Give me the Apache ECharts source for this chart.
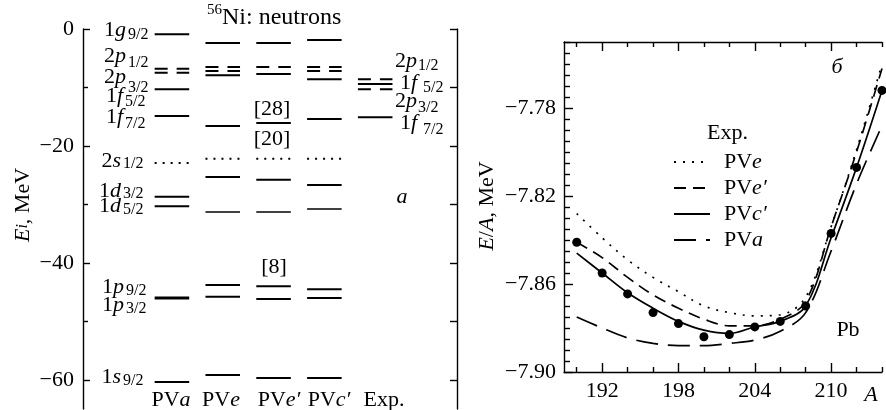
<!DOCTYPE html>
<html>
<head>
<meta charset="utf-8">
<script src="https://cdn.jsdelivr.net/npm/echarts@6/dist/echarts.min.js"></script>
<style>
  html, body { margin: 0; padding: 0; background: #fff; }
  #main { width: 886px; height: 410px; }
</style>
</head>
<body>
<div id="main"></div>
<script>
// ---- panel a: 56Ni neutron levels, [column, E (MeV)] ----
const columns = ['PVa', 'PVe', 'PVe′', 'PVc′', 'Exp.']
const solidLevels = [
  [0, -0.9], [0, -10.3], [0, -14.9], [0, -28.7], [0, -30.3], [0, -60.4],
  [1, -2.4], [1, -7.9], [1, -16.6], [1, -25.3], [1, -43.8], [1, -45.8], [1, -59.2],
  [2, -2.4], [2, -7.7], [2, -16.1], [2, -25.8], [2, -44.0], [2, -46.2], [2, -59.7],
  [3, -1.9], [3, -8.6], [3, -15.4], [3, -26.7], [3, -44.5], [3, -46.0], [3, -59.7],
  [4, -9.4], [4, -15.1]
]
const thickLevels = [[0, -46.0]]
const thinLevels = [[1, -31.3], [2, -31.3], [3, -30.8]]
const dashedLevels = [
  [0, -6.8], [0, -7.5], [1, -6.5], [1, -7.2], [2, -6.5],
  [3, -6.5], [3, -7.2], [4, -8.6], [4, -10.3]
]
const dottedLevels = [[0, -22.9], [1, -22.2], [2, -22.2], [3, -22.2]]
const levelTicksMajor = [-60, -40, -20, 0]
const levelTicksMinor = [-50, -30, -10]
const levelTicksRight = [-60, -50, -40, -30, -20, -10, 0]

// ---- panel б: Pb binding energy per nucleon ----
const massNumbers = [190, 192, 194, 196, 198, 200, 202, 204, 206, 208, 210, 212, 214]
const expEnergy  = [-7.841, -7.855, -7.8645, -7.873, -7.878, -7.884, -7.883, -7.8795, -7.877, -7.870, -7.837, -7.807, -7.772]
const pveEnergy  = [-7.828, -7.839, -7.849, -7.857, -7.8635, -7.870, -7.873, -7.8745, -7.874, -7.866, -7.834, -7.799, -7.760]
const pve2Energy = [-7.841, -7.848, -7.857, -7.865, -7.871, -7.876, -7.879, -7.879, -7.876, -7.868, -7.834, -7.800, -7.762]
const pvc2Energy = [-7.846, -7.855, -7.864, -7.871, -7.877, -7.881, -7.8825, -7.8795, -7.877, -7.870, -7.839, -7.807, -7.772]
const pvaEnergy  = [-7.875, -7.880, -7.8845, -7.887, -7.888, -7.888, -7.887, -7.8855, -7.8815, -7.873, -7.845, -7.8145, -7.788]
const aTicksMajor = [192, 198, 204, 210]
const aTicksMinor = [190, 194, 196, 200, 202, 206, 208, 212, 214]
const eTicksMajor = [-7.90, -7.86, -7.82, -7.78]
const eTicksMinor = [
  -7.895, -7.89, -7.885, -7.88, -7.875, -7.87, -7.865, -7.855, -7.85, -7.845, -7.84,
  -7.835, -7.83, -7.825, -7.815, -7.81, -7.805, -7.80, -7.795, -7.79, -7.785,
  -7.775, -7.77, -7.765, -7.76, -7.755, -7.75
]

const serif = '"Liberation Serif", "Times New Roman", serif'
const chart = echarts.init(document.getElementById('main'))
const halfWidth = 0.34

function levelSeries (data, width, dash) {
  return {
    type: 'custom', xAxisIndex: 0, yAxisIndex: 0, silent: true, data: data,
    renderItem: function (params, api) {
      const c = api.value(0), e = api.value(1)
      const a = api.coord([c - halfWidth, e])
      const b = api.coord([c + halfWidth, e])
      return {
        type: 'line',
        shape: { x1: a[0], y1: a[1], x2: b[0], y2: b[1] },
        style: { stroke: '#000', lineWidth: width, lineDash: dash }
      }
    }
  }
}

function pairs (ys) {
  return massNumbers.map((a, i) => [a, ys[i]])
}

function curve (name, ys, dash) {
  return {
    name: name, type: 'line', xAxisIndex: 1, yAxisIndex: 3,
    data: pairs(ys), smooth: 0.35, symbol: 'none', silent: true,
    itemStyle: { color: '#000' },
    lineStyle: { color: '#000', width: 1.7, type: dash }
  }
}

const richText = {
  r: { fontFamily: serif, fontSize: 22, fill: '#000' },
  i: { fontFamily: serif, fontSize: 22, fontStyle: 'italic', fill: '#000' },
  s: { fontFamily: serif, fontSize: 16, fontStyle: 'italic', fill: '#000' }
}

function txt (x, y, text, align, size, extra) {
  return Object.assign({
    type: 'text', x: x, y: y, silent: true,
    style: {
      text: text, fill: '#000', align: align || 'center', verticalAlign: 'middle',
      font: (size || 22) + 'px ' + serif, rich: richText
    }
  }, extra || {})
}

// level label: main part right edge, subscript after it
function leftLabel (digit, letter, sub, y, ySub, mainRight) {
  return [
    txt(mainRight, y, '{r|' + digit + '}{i|' + letter + '}', 'right'),
    txt(mainRight + 2, ySub, sub, 'left', 16)
  ]
}
function rightLabel (digit, letter, sub, x, y, ySub) {
  return [
    txt(x, y, '{r|' + digit + '}{i|' + letter + '}', 'left'),
    txt(x + 23, ySub, sub, 'left', 16)
  ]
}

const graphics = [].concat(
  txt(222, 10, '56', 'right', 15),
  txt(222, 18, 'Ni: neutrons', 'left', 24),
  leftLabel('1', 'g', '9/2', 30, 35, 126),
  leftLabel('2', 'p', '1/2', 56, 63, 126),
  leftLabel('2', 'p', '3/2', 77, 88, 126),
  leftLabel('1', 'f', '5/2', 96, 102, 123),
  leftLabel('1', 'f', '7/2', 117, 124, 123),
  leftLabel('2', 's', '1/2', 161, 164, 121),
  leftLabel('1', 'd', '3/2', 191, 194, 121),
  leftLabel('1', 'd', '5/2', 206, 210, 121),
  leftLabel('1', 'p', '9/2', 287, 291, 124),
  leftLabel('1', 'p', '3/2', 305, 309, 124),
  leftLabel('1', 's', '9/2', 377, 381, 121),
  rightLabel('2', 'p', '1/2', 395, 61, 66),
  rightLabel('1', 'f', '5/2', 400, 83, 88),
  rightLabel('2', 'p', '3/2', 395, 101, 108),
  rightLabel('1', 'f', '7/2', 400, 123, 130),
  txt(272, 109, '[28]'),
  txt(272, 139, '[20]'),
  txt(274, 267, '[8]'),
  txt(402, 197, '{i|a}'),
  txt(171, 400, '{r|PV}{i|a}'),
  txt(221, 400, '{r|PV}{i|e}'),
  txt(279, 400, '{r|PV}{i|e′}'),
  txt(329, 400, '{r|PV}{i|c′}'),
  txt(384, 400, 'Exp.'),
  txt(23, 205, '{i|E}{s|i}{r|, MeV}', 'center', 22, { rotation: Math.PI / 2 }),
  txt(487, 206, '{i|E}{r|/}{i|A}{r|, MeV}', 'center', 22, { rotation: Math.PI / 2 }),
  txt(837, 67, '{i|б}'),
  txt(848, 330, 'Pb'),
  txt(871, 395, '{i|A}', 'center', 24),
  txt(707, 133, 'Exp.', 'left')
)

const axisFont = { fontFamily: serif, fontSize: 22, color: '#000' }
const blackLine = { show: true, onZero: false, lineStyle: { color: '#000', width: 1.4 } }
const noLine = { show: false, onZero: false }
const tickStyle = { color: '#000', width: 1.4 }
const minus = v => (v < 0 ? '−' : '') + Math.abs(v)

const legendNames = {
  'PVe': '{r|PV}{i|e}',
  'PVe′': '{r|PV}{i|e′}',
  'PVc′': '{r|PV}{i|c′}',
  'PVa': '{r|PV}{i|a}'
}

const option = {
  animation: false,
  backgroundColor: '#fff',
  grid: [
    { left: 83, top: 29, width: 374, height: 380 },
    { left: 564, top: 42, width: 318, height: 330 }
  ],
  xAxis: [
    { gridIndex: 0, type: 'value', min: -1.75, max: 5.61, show: false },
    {
      gridIndex: 1, type: 'value', min: 189, max: 214, position: 'bottom',
      axisLine: blackLine, splitLine: { show: false },
      axisTick: { inside: true, length: 9, customValues: aTicksMajor, lineStyle: tickStyle },
      axisLabel: Object.assign({ customValues: aTicksMajor, margin: 8 }, axisFont)
    },
    {
      gridIndex: 1, type: 'value', min: 189, max: 214, position: 'bottom',
      axisLine: noLine, splitLine: { show: false }, axisLabel: { show: false },
      axisTick: { inside: true, length: 5, customValues: aTicksMinor, lineStyle: tickStyle }
    },
    {
      gridIndex: 1, type: 'value', min: 189, max: 214, position: 'top',
      axisLine: blackLine, splitLine: { show: false }, axisLabel: { show: false },
      axisTick: { inside: true, length: 9, customValues: aTicksMajor, lineStyle: tickStyle }
    },
    {
      gridIndex: 1, type: 'value', min: 189, max: 214, position: 'top',
      axisLine: noLine, splitLine: { show: false }, axisLabel: { show: false },
      axisTick: { inside: true, length: 5, customValues: aTicksMinor, lineStyle: tickStyle }
    }
  ],
  yAxis: [
    {
      gridIndex: 0, type: 'value', min: -65, max: 0, position: 'left',
      axisLine: blackLine, splitLine: { show: false },
      axisTick: { inside: true, length: 7, customValues: levelTicksMajor, lineStyle: tickStyle },
      axisLabel: Object.assign({ customValues: levelTicksMajor, margin: 9, formatter: minus }, axisFont)
    },
    {
      gridIndex: 0, type: 'value', min: -65, max: 0, position: 'left',
      axisLine: noLine, splitLine: { show: false }, axisLabel: { show: false },
      axisTick: { inside: true, length: 5, customValues: levelTicksMinor, lineStyle: tickStyle }
    },
    {
      gridIndex: 0, type: 'value', min: -65, max: 0, position: 'right',
      axisLine: blackLine, splitLine: { show: false }, axisLabel: { show: false },
      axisTick: { inside: true, length: 7, customValues: levelTicksRight, lineStyle: tickStyle }
    },
    {
      gridIndex: 1, type: 'value', min: -7.90, max: -7.75, position: 'left',
      axisLine: blackLine, splitLine: { show: false },
      axisTick: { inside: true, length: 9, customValues: eTicksMajor, lineStyle: tickStyle },
      axisLabel: Object.assign({
        customValues: eTicksMajor, margin: 8,
        formatter: v => '−' + Math.abs(v).toFixed(2)
      }, axisFont)
    },
    {
      gridIndex: 1, type: 'value', min: -7.90, max: -7.75, position: 'left',
      axisLine: noLine, splitLine: { show: false }, axisLabel: { show: false },
      axisTick: { inside: true, length: 6, customValues: eTicksMinor, lineStyle: tickStyle }
    }
  ],
  legend: {
    orient: 'vertical', left: 668, top: 145, itemWidth: 36, itemHeight: 12, itemGap: 2,
    data: ['PVe', 'PVe′', 'PVc′', 'PVa'],
    formatter: name => legendNames[name],
    itemStyle: { opacity: 0 },
    textStyle: {
      color: '#000', fontFamily: serif, fontSize: 22, lineHeight: 24,
      rich: {
        r: { fontFamily: serif, fontSize: 22, color: '#000', padding: [0, 0, 0, 9] },
        i: { fontFamily: serif, fontSize: 22, color: '#000', fontStyle: 'italic' }
      }
    },
    selectedMode: false
  },
  series: [
    levelSeries(solidLevels, 2, null),
    levelSeries(thickLevels, 3, null),
    levelSeries(thinLevels, 1.5, null),
    levelSeries(dashedLevels, 2, [13, 9]),
    levelSeries(dottedLevels, 2, [2, 6]),
    curve('PVe', pveEnergy, [2, 7]),
    curve('PVe′', pve2Energy, [12, 7]),
    curve('PVc′', pvc2Energy, 'solid'),
    curve('PVa', pvaEnergy, [22, 10]),
    {
      name: 'Exp.', type: 'scatter', xAxisIndex: 1, yAxisIndex: 3, silent: true,
      data: pairs(expEnergy), symbolSize: 9, itemStyle: { color: '#000', opacity: 1 }
    }
  ],
  graphic: graphics
}

chart.setOption(option)
</script>
</body>
</html>
